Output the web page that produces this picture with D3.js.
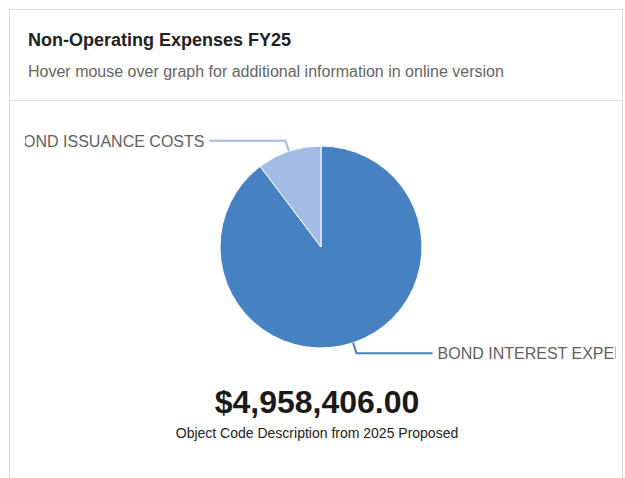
<!DOCTYPE html>
<html lang="en">
<head>
<meta charset="UTF-8">
<title>Non-Operating Expenses FY25</title>
<script src="https://d3js.org/d3.v7.min.js"></script>
<style>
  body { margin: 0; background: #fff; }
  svg { display: block; font-family: "Liberation Sans", Arial, sans-serif; }
</style>
</head>
<body>
<div id="chart"></div>
<script>
// values
var categories = ["BOND INTEREST EXPENSE", "BOND ISSUANCE COSTS"];
var amounts = [4448406, 510000];
var sliceColors = ["#4682c2", "#a3bce5"];

var width = 625, height = 478;
var cx = 321, cy = 247, radius = 101;

var svg = d3.select("#chart").append("svg")
    .attr("width", width)
    .attr("height", height);

// card
svg.append("rect")
    .attr("x", 9.5).attr("y", 9.5)
    .attr("width", 613).attr("height", 490)
    .attr("fill", "#fff")
    .attr("stroke", "#dcdcdc");

svg.append("line")
    .attr("x1", 9.5).attr("x2", 622.5)
    .attr("y1", 100.5).attr("y2", 100.5)
    .attr("stroke", "#dcdcdc");

svg.append("text")
    .attr("x", 28).attr("y", 46)
    .attr("font-size", 18).attr("font-weight", "bold")
    .attr("fill", "#222")
    .text("Non-Operating Expenses FY25");

svg.append("text")
    .attr("x", 28).attr("y", 77)
    .attr("font-size", 16)
    .attr("fill", "#666")
    .text("Hover mouse over graph for additional information in online version");

// chart area clip (labels get cut at the edges, as in the original)
svg.append("clipPath").attr("id", "plot-clip")
    .append("rect")
    .attr("x", 25).attr("y", 102)
    .attr("width", 591).attr("height", 270);

var data = categories.map(function(c, i) {
    return { name: c, value: amounts[i], color: sliceColors[i] };
});

var pie = d3.pie().sort(null).value(function(d) { return d.value; });
var arc = d3.arc().innerRadius(0).outerRadius(radius);
var edgeArc = d3.arc().innerRadius(radius).outerRadius(radius);
var outerArc = d3.arc().innerRadius(112).outerRadius(112);

var g = svg.append("g")
    .attr("clip-path", "url(#plot-clip)")
    .append("g")
    .attr("transform", "translate(" + cx + "," + cy + ")");

var arcs = pie(data);

g.selectAll("path.slice")
    .data(arcs)
    .enter().append("path")
    .attr("class", "slice")
    .attr("d", arc)
    .attr("fill", function(d) { return d.data.color; })
    .attr("stroke", "#fff")
    .attr("stroke-width", 1);

function side(d) {
    var mid = (d.startAngle + d.endAngle) / 2;
    return mid < Math.PI ? 1 : -1;
}

g.selectAll("polyline")
    .data(arcs)
    .enter().append("polyline")
    .attr("fill", "none")
    .attr("stroke", function(d) { return d.data.color; })
    .attr("stroke-width", 2)
    .attr("points", function(d) {
        var a = edgeArc.centroid(d);
        var b = outerArc.centroid(d);
        var c = [b[0] + side(d) * 76, b[1]];
        return [a, b, c].map(function(p) { return p.join(","); }).join(" ");
    });

g.selectAll("text.label")
    .data(arcs)
    .enter().append("text")
    .attr("class", "label")
    .attr("x", function(d) { return outerArc.centroid(d)[0] + side(d) * 81; })
    .attr("y", function(d) { return outerArc.centroid(d)[1] + 6; })
    .attr("text-anchor", function(d) { return side(d) > 0 ? "start" : "end"; })
    .attr("font-size", 16)
    .attr("fill", "#5f5f5f")
    .text(function(d) { return d.data.name; });

// total
var total = d3.sum(amounts);
svg.append("text")
    .attr("x", 317).attr("y", 413)
    .attr("text-anchor", "middle")
    .attr("font-size", 32).attr("font-weight", "bold")
    .attr("fill", "#1a1a1a")
    .text(d3.format("$,.2f")(total));

svg.append("text")
    .attr("x", 317).attr("y", 438)
    .attr("text-anchor", "middle")
    .attr("font-size", 14)
    .attr("fill", "#222")
    .text("Object Code Description from 2025 Proposed");
</script>
</body>
</html>
